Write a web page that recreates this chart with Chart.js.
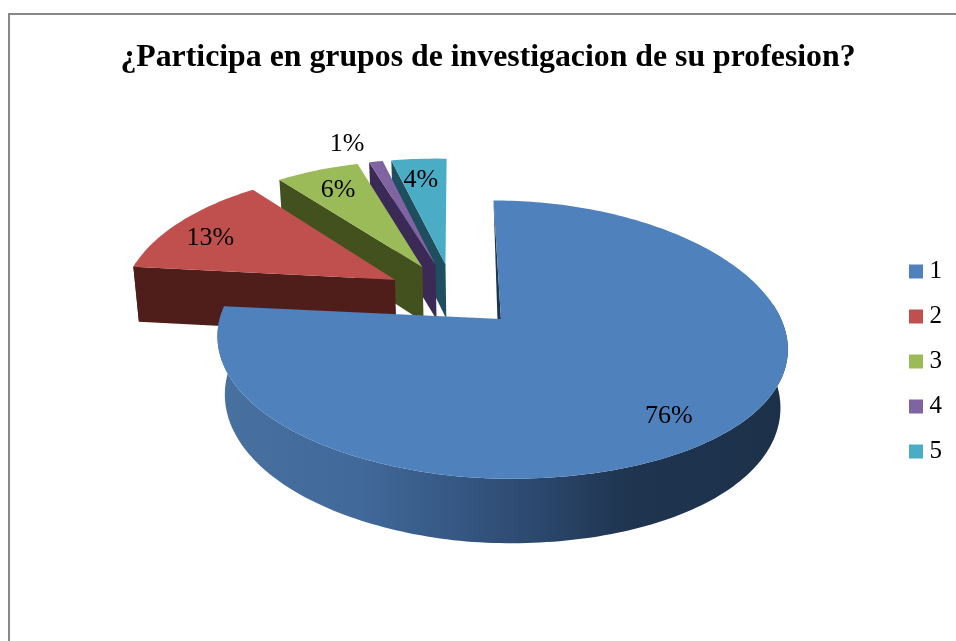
<!DOCTYPE html>
<html><head><meta charset="utf-8">
<style>html,body{margin:0;padding:0;background:#fff}canvas{display:block}</style>
<script src="https://cdn.jsdelivr.net/npm/chart.js@4"></script>
</head><body><canvas id="c" width="956" height="641"></canvas>
<script>
const titleText = "¿Participa en grupos de investigacion de su profesion?";
const categories = ["1","2","3","4","5"];
const shares = [76,13,6,1,4];
const topColors = ["#4f81bd","#c0504d","#9bbb59","#8064a2","#4bacc6"];
const wallColors = ["#1f3550","#4f1e1b","#43511f","#3b2a56","#1f4f5e"];
const SERIF = "'Liberation Serif','Times New Roman',serif";

// view of the pie plane (perspective), style only
const view = {x0:453.5,y0:295,ax:271,by:129,kx:0.18,ky:0.145,shear:5,depth:56,vx:502,taperMain:0.974,taper:0.985,explodeX:0.2475,explodeY:0.2475};
// label placement: radial fraction and angular shift (deg) per slice
const labelFrac = [0.82,0.81,0.78,1.22,0.78];
const labelShift = [5,-4,0,-4,-1];

function project(X,Y){
  const wx=1-view.kx*Y,wy=1-view.ky*Y;
  return {x:view.x0+view.ax*X/wx,y:view.y0+view.by*Y/wy+(X<0?view.shear*X:0),w:wy};
}
function drop(p,t){return {x:view.vx+(p.x-view.vx)*t,y:p.y+view.depth/Math.pow(p.w,0.75)};}
function poly(ctx,pts){ctx.beginPath();pts.forEach((p,i)=>i?ctx.lineTo(p.x,p.y):ctx.moveTo(p.x,p.y));ctx.closePath();}

const pie3d = {
  id:'pie3d',
  beforeDraw(chart){
    const {ctx,width,height}=chart;
    ctx.save();ctx.fillStyle='#fff';ctx.fillRect(0,0,width,height);
    ctx.fillStyle='#878787';ctx.fillRect(8,13,width-8,2);ctx.fillRect(8,13,2,height-13);ctx.restore();
  },
  beforeDatasetsDraw(chart){
    const {ctx}=chart;const meta=chart.getDatasetMeta(0);
    const items=meta.data.map((arc,i)=>{
      const s=arc.startAngle,e=arc.endAngle,m=(s+e)/2;
      return {i,s,e,m,ox:view.explodeX*Math.cos(m),oy:view.explodeY*Math.sin(m)};
    }).sort((a,b)=>Math.sin(a.m)-Math.sin(b.m));
    ctx.save();
    for(const it of items){
      const n=Math.max(4,Math.ceil((it.e-it.s)/0.02));
      const rim=[],front=[];
      for(let j=0;j<=n;j++){
        const a=it.s+(it.e-it.s)*j/n;
        const p=project(it.ox+Math.cos(a),it.oy+Math.sin(a));
        rim.push(p);
        if(Math.sin(a)>-0.12) front.push(p);
      }
      const apex=project(it.ox,it.oy);
      if(it.i===0){
        const g=ctx.createLinearGradient(217,0,787,0);
        g.addColorStop(0,'#47719f');g.addColorStop(.25,'#41699a');g.addColorStop(.5,'#304f78');g.addColorStop(.72,'#1f3550');g.addColorStop(1,'#1c3049');
        ctx.fillStyle=g;
        poly(ctx,[...front,...front.map(p=>drop(p,view.taperMain)).reverse()]);ctx.fill();
        poly(ctx,[rim[0],apex,{x:apex.x-3.5,y:apex.y}]);ctx.fillStyle=wallColors[0];ctx.fill();
      }else{
        const d=p=>drop(p,view.taper);
        ctx.fillStyle=wallColors[it.i];
        poly(ctx,[apex,rim[0],d(rim[0]),d(apex)]);ctx.fill();
        if(front.length>1){poly(ctx,[...front,...front.map(d).reverse()]);ctx.fill();}
      }
      poly(ctx,[apex,...rim]);ctx.fillStyle=topColors[it.i];ctx.fill();
    }
    const total=shares.reduce((a,b)=>a+b,0);
    ctx.fillStyle='#000';ctx.font="26px "+SERIF;ctx.textAlign='center';ctx.textBaseline='middle';
    meta.data.forEach((arc,i)=>{
      const m=(arc.startAngle+arc.endAngle)/2,a=m+labelShift[i]*Math.PI/180,f=labelFrac[i];
      const p=project(view.explodeX*Math.cos(m)+f*Math.cos(a),view.explodeY*Math.sin(m)+f*Math.sin(a));
      ctx.fillText(Math.round(shares[i]/total*100)+"%",p.x,p.y);
    });
    ctx.restore();
    return false;
  }
};

new Chart(document.getElementById('c'),{
  type:'pie',
  data:{labels:categories,datasets:[{data:shares,backgroundColor:topColors,borderWidth:0}]},
  options:{
    responsive:false,animation:false,
    layout:{padding:{left:24,right:4,top:0,bottom:0}},
    plugins:{
      tooltip:{enabled:false},
      title:{display:true,text:titleText,color:'#000',align:'center',
        font:{family:SERIF,size:31.8,weight:'bold'},padding:{top:39,bottom:5}},
      legend:{display:true,position:'right',fullSize:false,
        labels:{usePointStyle:true,pointStyle:'rect',boxWidth:2,boxHeight:14,padding:20,color:'#000',
          font:{family:SERIF,size:25}}}
    }
  },
  plugins:[pie3d]
});
</script></body></html>
